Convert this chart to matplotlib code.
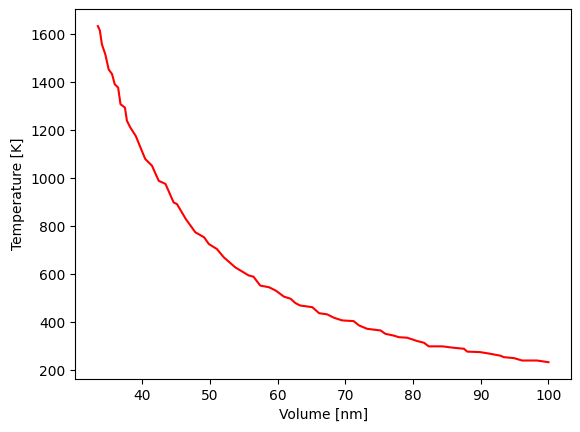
import matplotlib
matplotlib.use("Agg")
import matplotlib.pyplot as plt

volume = [33.4, 33.7, 34.0, 34.5, 35.0, 35.5, 35.9, 36.4, 36.75, 37.4, 37.7, 38.2, 39.0, 39.7,
          40.4, 41.4, 42.4, 43.4, 44.6, 45.1, 46.4, 47.8, 49.1, 49.8, 51.0, 52.0, 53.7,
          55.7, 56.4, 57.4, 58.7, 59.7, 60.9, 61.9, 62.6, 63.3, 65.1, 66.1, 67.3, 68.3,
          69.5, 71.2, 72.0, 73.2, 75.2, 75.9, 77.1, 77.9, 79.1, 80.6, 81.6, 82.3, 84.3,
          86.0, 87.5, 88.0, 89.9, 91.4, 92.9, 93.4, 94.9, 96.1, 98.3, 100.0]
temperature = [1633, 1615, 1557, 1516, 1453, 1433, 1391, 1377, 1308, 1294, 1239, 1211, 1176, 1128,
               1080, 1052, 989, 976, 899, 892, 830, 775, 754, 726, 705, 671, 629,
               595, 590, 553, 546, 532, 507, 498, 480, 470, 463, 438, 433, 419,
               408, 405, 387, 373, 366, 352, 345, 338, 336, 322, 315, 300, 300,
               294, 290, 278, 276, 269, 261, 255, 251, 241, 241, 234]

fig = plt.figure(figsize=(5.8, 4.32), dpi=100)
ax = fig.add_axes([75.3 / 580, (432 - 379) / 432, 495.7 / 580, 369.7 / 432])
ax.plot(volume, temperature, color="red")
ax.set_xlabel("Volume [nm]")
ax.set_ylabel("Temperature [K]")
fig.savefig("out.png", dpi=100)
